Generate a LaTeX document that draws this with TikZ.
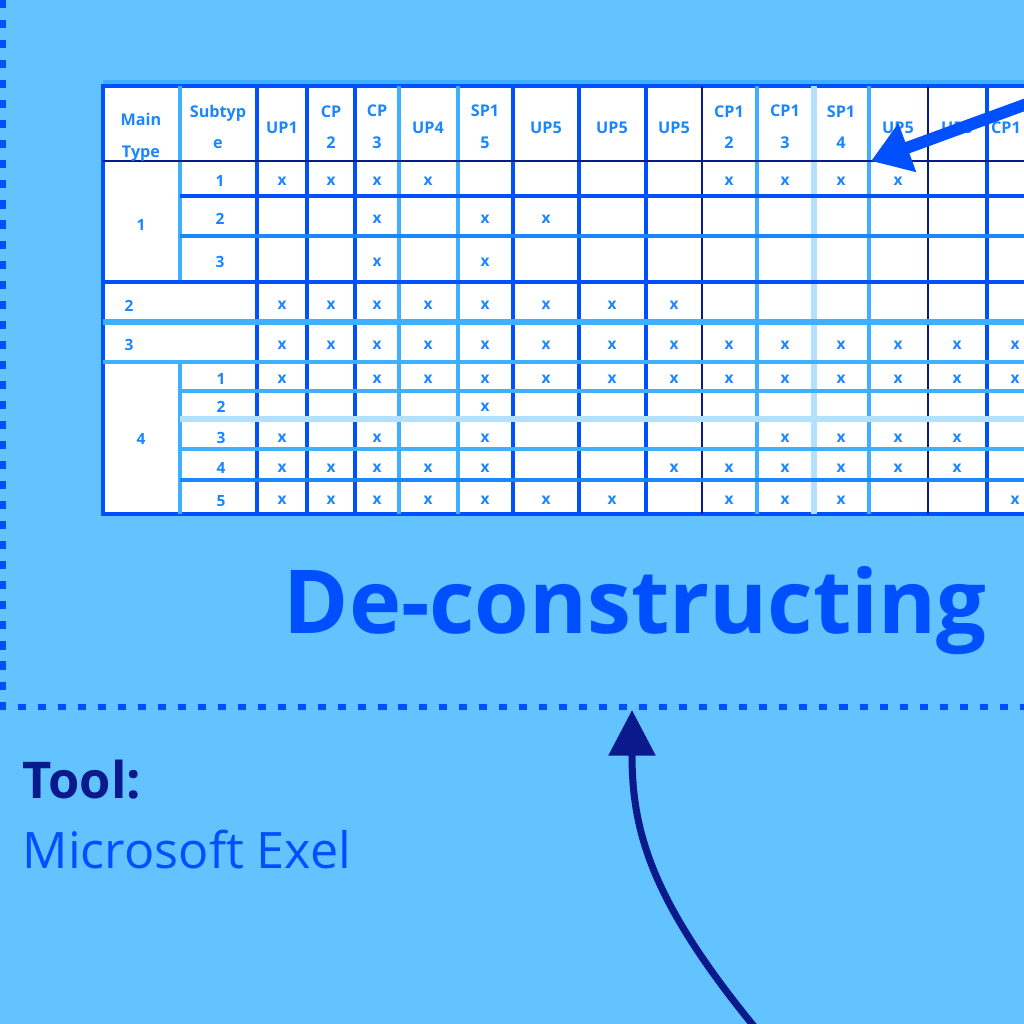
\documentclass[tikz,border=0pt]{standalone}
\usepackage{fontspec}
\setmainfont{Open Sans}
\usetikzlibrary{arrows.meta}
\definecolor{bgblue}{HTML}{62C3FF}
\definecolor{brightblue}{HTML}{0050FF}
\definecolor{navyblue}{HTML}{0A1A8C}
\definecolor{midblue}{HTML}{1A86FF}
\definecolor{lightblue}{HTML}{3FB0FF}
\definecolor{paleblue}{HTML}{B4E0FF}

\begin{document}
\begin{tikzpicture}[x=0.01cm,y=-0.01cm,
  bright/.style={brightblue,line width=1.1pt},
  navy/.style={navyblue,line width=0.6pt},
  mid/.style={midblue,line width=1pt},
  light/.style={lightblue,line width=1.1pt},
  pale/.style={paleblue,line width=1.7pt},
  head/.style={text=midblue,font=\fontsize{4.6}{9}\selectfont\bfseries,align=center,inner sep=0pt},
  cell/.style={text=midblue,font=\fontsize{4.4}{6}\selectfont\bfseries,inner sep=0pt}]
\fill[bgblue] (0,0) rectangle (1024,1024);
\useasboundingbox (0,0) rectangle (1024,1024);
% dotted frame
\draw[brightblue,line width=1.8pt,dash pattern=on 2.3pt off 3.4pt] (3,0) -- (3,707) -- (1040,707);
% table
\fill[white] (103,86) rectangle (1040,514);
\draw[light,line width=1.8pt] (103,83) -- (1040,83);
\draw[bright,line width=1.4pt] (1040,86) -- (103,86) -- (103,514) -- (1040,514);
\draw[light] (180,86) -- (180,282);
\draw[light] (180,362) -- (180,514);
\draw[bright] (257,86) -- (257,514);
\draw[bright] (307,86) -- (307,514);
\draw[bright] (355,86) -- (355,514);
\draw[light] (399,86) -- (399,514);
\draw[light] (458,86) -- (458,514);
\draw[bright] (513,86) -- (513,514);
\draw[bright] (579,86) -- (579,514);
\draw[bright,line width=1.4pt] (646,86) -- (646,514);
\draw[navy] (702,86) -- (702,514);
\draw[light] (757,86) -- (757,514);
\draw[pale] (814,86) -- (814,514);
\draw[light] (869,86) -- (869,514);
\draw[navy] (928,86) -- (928,514);
\draw[bright] (987,86) -- (987,514);
\draw[navy] (103,161) -- (1040,161);
\draw[bright] (180,196) -- (1040,196);
\draw[mid] (180,236) -- (1040,236);
\draw[bright] (103,282) -- (1040,282);
\draw[light,line width=1.5pt] (103,322) -- (1040,322);
\draw[light] (103,362) -- (1040,362);
\draw[light] (180,391) -- (1040,391);
\draw[pale] (180,419) -- (1040,419);
\draw[light] (180,449) -- (1040,449);
\draw[mid] (180,480) -- (1040,480);
% header
\node[head] (hmain) at (141,137) {Main\\Type};
\node[head] (hsub) at (218,127) {Subtyp\\e};
\node[head] (hc1) at (282,128) {UP1};
\node[head] (hc2) at (331,127) {CP\\2};
\node[head] (hc3) at (377,127) {CP\\3};
\node[head] (hc4) at (428,128) {UP4};
\node[head] (hc5) at (485,127) {SP1\\5};
\node[head] (hc6) at (546,128) {UP5};
\node[head] (hc7) at (612,128) {UP5};
\node[head] (hc8) at (674,128) {UP5};
\node[head] (hc9) at (729,127) {CP1\\2};
\node[head] (hc10) at (785,127) {CP1\\3};
\node[head] (hc11) at (841,127) {SP1\\4};
\node[head] (hc12) at (898,128) {UP5};
\node[head] (hc13) at (957,128) {UP5};
\node[head] (hc14) at (1006,128) {CP1};
% row labels
\node[cell] (m1) at (141,225) {1};
\node[cell] (m2) at (129,306) {2};
\node[cell] (m3) at (129,345) {3};
\node[cell] (m4) at (141,439) {4};
\node[cell] (s11) at (220,181) {1};
\node[cell] (s12) at (220,219) {2};
\node[cell] (s13) at (220,262) {3};
\node[cell] (s41) at (221,379) {1};
\node[cell] (s42) at (221,407) {2};
\node[cell] (s43) at (221,438) {3};
\node[cell] (s44) at (221,468) {4};
\node[cell] (s45) at (221,501) {5};
% marks
\foreach \x in {282,331,377,428,729,785,841,898} \node[cell] (ra-\x) at (\x,181) {x};
\foreach \x in {377,485,546} \node[cell] (rb-\x) at (\x,219) {x};
\foreach \x in {377,485} \node[cell] (rc-\x) at (\x,262) {x};
\foreach \x in {282,331,377,428,485,546,612,674} \node[cell] (rd-\x) at (\x,305) {x};
\foreach \x in {282,331,377,428,485,546,612,674,729,785,841,898,957,1015} \node[cell] (re-\x) at (\x,345) {x};
\foreach \x in {282,377,428,485,546,612,674,729,785,841,898,957,1015} \node[cell] (rf-\x) at (\x,379) {x};
\foreach \x in {485} \node[cell] (rg-\x) at (\x,407) {x};
\foreach \x in {282,377,485,785,841,898,957} \node[cell] (rh-\x) at (\x,438) {x};
\foreach \x in {282,331,377,428,485,674,729,785,841,898,957} \node[cell] (ri-\x) at (\x,468) {x};
\foreach \x in {282,331,377,428,485,546,612,729,785,841,1015} \node[cell] (rj-\x) at (\x,500) {x};
% titles
\node[anchor=base west,inner sep=0pt,text=brightblue,font=\fontsize{25.1}{30}\selectfont\bfseries] (title) at (283,633) {De-constructing};
\node[anchor=base west,inner sep=0pt,text=navyblue,font=\fontsize{14.4}{18}\selectfont\bfseries] (tool) at (22,798) {Tool:};
\node[anchor=base west,inner sep=0pt,text=brightblue,font=\fontsize{14.3}{18}\selectfont] (exel) at (22,868) {Microsoft Exel};
% arrows
\coordinate (frametip) at (632,710);
\coordinate (arcstart) at (757,1030);
\draw[navyblue,line width=2pt,-{Triangle[width=13pt,length=13pt]}] (arcstart) .. controls (650,900) and (632,830) .. (frametip);
\coordinate (celltip) at (871,161);
\coordinate (cornerstart) at (1035,101);
\draw[brightblue,line width=3.4pt,-{Triangle[width=14pt,length=11pt]}] (cornerstart) -- (celltip);
\end{tikzpicture}
\end{document}
